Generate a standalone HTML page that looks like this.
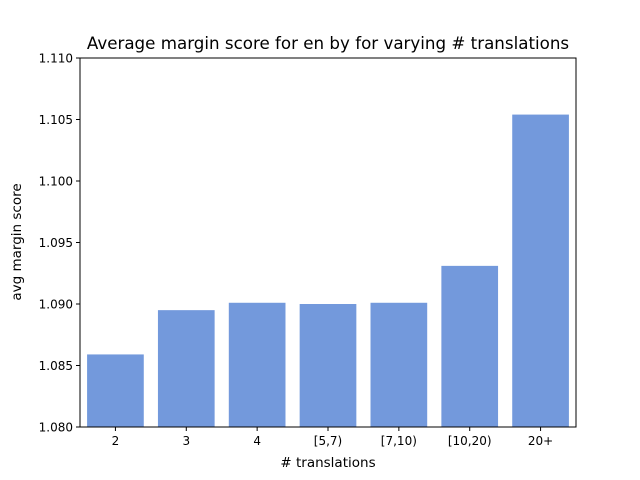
<!DOCTYPE html>
<html><head><meta charset="utf-8"><style>body{margin:0;background:#fff}svg{display:block;font-family:"DejaVu Sans","Liberation Sans",sans-serif}</style></head>
<body>
<svg id="chart" width="640" height="480">
<rect width="640" height="480" fill="#fff"/>
<text x="328" y="49" text-anchor="middle" font-size="16.7">Average margin score for en by for varying # translations</text>
<g id="bars"></g>
<g id="axes"></g>
<text x="328" y="467" text-anchor="middle" font-size="13.5"># translations</text>
<text transform="translate(21,242) rotate(-90)" text-anchor="middle" font-size="13.5">avg margin score</text>
</svg>
<script>
const categories = ["2","3","4","[5,7)","[7,10)","[10,20)","20+"];
const values = [1.0859,1.0895,1.0901,1.0900,1.0901,1.0931,1.1054];
const yTicks = [1.080,1.085,1.090,1.095,1.100,1.105,1.110];
const yTickLabels = ["1.080","1.085","1.090","1.095","1.100","1.105","1.110"];
const NS="http://www.w3.org/2000/svg";
const L=80,R=576,T=58,B=427,yMin=1.080,yMax=1.110;
const y=v=>B-(v-yMin)/(yMax-yMin)*(B-T);
const step=(R-L)/categories.length;
const x=i=>L+step*(i+0.5);
const bars=document.getElementById('bars'),axes=document.getElementById('axes');
function mk(t,a,p){const e=document.createElementNS(NS,t);for(const k in a)e.setAttribute(k,a[k]);p.appendChild(e);return e;}
categories.forEach((c,i)=>{
  const w=step*0.8;
  const r=mk('rect',{x:x(i)-w/2,y:y(values[i]),width:w,height:B-y(values[i]),fill:'#7399dc'},bars);
  
  
  mk('line',{x1:x(i),x2:x(i),y1:B,y2:B+4,stroke:'#000','stroke-width':1},axes);
  const t=mk('text',{x:x(i),y:B+18,'text-anchor':'middle','font-size':12},axes);
  t.textContent=c;
  
  
});
yTicks.forEach((v,i)=>{
  mk('line',{x1:L-4,x2:L,y1:y(v),y2:y(v),stroke:'#000','stroke-width':1},axes);
  const t=mk('text',{x:L-7,y:y(v)+4.5,'text-anchor':'end','font-size':12},axes);
  t.textContent=yTickLabels[i];
  
  
});
const f=mk('rect',{x:L,y:T,width:R-L,height:B-T,fill:'none',stroke:'#000','stroke-width':1},axes);


</script>
</body></html>
